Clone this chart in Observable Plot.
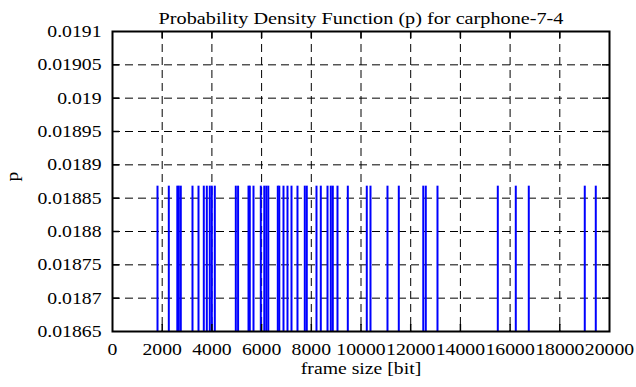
<!DOCTYPE html>
<html><head><meta charset="utf-8">
<script src="https://cdn.jsdelivr.net/npm/d3@7"></script>
<script src="https://cdn.jsdelivr.net/npm/@observablehq/plot@0.6"></script>
<style>body{margin:0;background:#fff} svg text{font-family:"Liberation Serif","Times New Roman",serif !important;}</style>
</head><body><div id="chart"></div>
<script>
const title = "Probability Density Function (p) for carphone-7-4";
const xLabel = "frame size [bit]";
const yLabel = "p";
const frameSizes = [1811, 2266, 2608, 2668, 2748, 3219, 3461, 3674, 3795, 3915, 3996, 4117,
  4962, 5054, 5473, 5525, 5674, 5968, 6108, 6189, 6269, 6652, 6712, 6881, 7042, 7203, 7444,
  7738, 7818, 8209, 8382, 8652, 8785, 8865, 9054, 9469, 10233, 10382, 11066, 11521, 12506,
  12607, 13078, 15505, 16229, 16752, 19005, 19448];
const probability = 0.018868;
const xTicks = [0, 2000, 4000, 6000, 8000, 10000, 12000, 14000, 16000, 18000, 20000];
const yTicks = [0.01865, 0.0187, 0.01875, 0.0188, 0.01885, 0.0189, 0.01895, 0.019, 0.01905, 0.0191];
const yTickLabels = ["0.01865", "0.0187", "0.01875", "0.0188", "0.01885", "0.0189", "0.01895", "0.019", "0.01905", "0.0191"];

const W = 636, H = 387, mL = 112, mR = 27, mT = 31, mB = 56;
const fw = W - mL - mR, fh = H - mT - mB, tk = 7;
const serif = "'Liberation Serif', 'Times New Roman', serif";
const data = frameSizes.map(s => ({size: s, p: probability}));
const inner = (a) => a.slice(1, -1);
const dash = {stroke: "black", strokeOpacity: 1, strokeWidth: 1, strokeDasharray: "8,5"};

const plot = Plot.plot({
  width: W, height: H,
  marginLeft: mL, marginRight: mR, marginTop: mT, marginBottom: mB,
  style: {fontFamily: serif, fontSize: "17px", background: "white", color: "black", overflow: "visible"},
  x: {domain: [xTicks[0], xTicks[xTicks.length - 1]]},
  y: {domain: [yTicks[0], yTicks[yTicks.length - 1]]},
  marks: [
    Plot.gridX(inner(xTicks), dash),
    Plot.gridY(inner(yTicks), dash),
    Plot.ruleX(data, {x: "size", y1: yTicks[0], y2: "p", stroke: "#0000ff", strokeWidth: 2}),
    Plot.ruleX(inner(xTicks), {x: d => d, insetTop: fh - tk, stroke: "black", strokeWidth: 1.5}),
    Plot.ruleX(inner(xTicks), {x: d => d, insetBottom: fh - tk, stroke: "black", strokeWidth: 1.5}),
    Plot.ruleY(inner(yTicks), {y: d => d, insetRight: fw - tk, stroke: "black", strokeWidth: 1.5}),
    Plot.ruleY(inner(yTicks), {y: d => d, insetLeft: fw - tk, stroke: "black", strokeWidth: 1.5}),
    Plot.frame({stroke: "black", strokeWidth: 2}),
    Plot.axisX(xTicks, {tickSize: 0, tickPadding: 11, label: null, tickFormat: d => String(d), fontSize: 17, fontFamily: serif, fontVariant: "normal"}),
    Plot.axisY(yTicks, {tickSize: 0, tickPadding: 11, label: null, tickFormat: (d, i) => yTickLabels[i], fontSize: 17, fontFamily: serif, fontVariant: "normal"}),
    Plot.text([xLabel], {frameAnchor: "bottom", dy: 42, fontSize: 17, fontFamily: serif}),
    Plot.text([yLabel], {frameAnchor: "left", dx: -100, rotate: -90, fontSize: 17, fontFamily: serif}),
    Plot.text([title], {frameAnchor: "top", dy: -20, fontSize: 17, fontFamily: serif})
  ]
});
// widen glyphs horizontally to match the stretched serif face of the original
plot.querySelectorAll("text").forEach(t => {
  const s = t.textContent === title ? 1.19 : 1.16;
  const tr = t.getAttribute("transform");
  if (tr) {
    t.setAttribute("transform", tr + ` scale(${s},1)`);
  } else {
    const x = +(t.getAttribute("x") || 0), y = +(t.getAttribute("y") || 0);
    t.setAttribute("transform", `translate(${x},${y}) scale(${s},1)`);
    t.setAttribute("x", 0); t.setAttribute("y", 0);
  }
});
document.getElementById("chart").appendChild(plot);
</script>
</body></html>
